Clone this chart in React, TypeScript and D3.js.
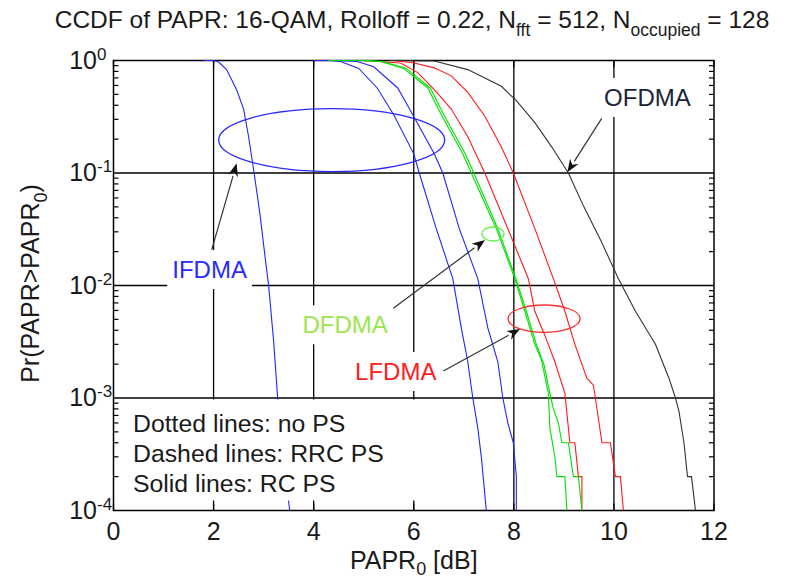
import React, { useEffect, useRef } from 'react';
import * as d3 from 'd3';

// axis ticks
const xTicks = [0, 2, 4, 6, 8, 10, 12];
const yTicks = [1e-4, 1e-3, 1e-2, 1e-1, 1];
const yExp = ['-4', '-3', '-2', '-1', '0'];

// IFDMA (blue)
const ifdmaAX = [1.8, 2.0, 2.1, 2.26, 2.46, 2.6, 2.7, 2.81, 2.93, 3.05, 3.1, 3.2, 3.28, 3.4, 3.52];
const ifdmaAY = [1, 1, 0.97, 0.83, 0.55, 0.37, 0.21, 0.1, 0.042, 0.015, 0.01, 0.0032, 0.001, 0.0003, 0.0001];
const ifdmaBX = [4.0, 4.3, 4.54, 4.9, 5.27, 5.6, 6.0, 6.11, 6.45, 6.78, 6.95, 7.08, 7.18, 7.28, 7.35, 7.45];
const ifdmaBY = [1, 1, 0.98, 0.85, 0.57, 0.33, 0.148, 0.1, 0.032, 0.0115, 0.0042, 0.0021, 0.001, 0.00054, 0.0003, 0.0001];
const ifdmaCX = [4.0, 4.5, 4.87, 5.2, 5.68, 5.98, 6.41, 6.58, 6.91, 7.28, 7.48, 7.68, 7.78, 7.88, 7.99, 8.05, 8.05];
const ifdmaCY = [1, 1, 0.98, 0.88, 0.57, 0.33, 0.148, 0.1, 0.032, 0.0115, 0.0042, 0.0021, 0.001, 0.0006, 0.0004, 0.0002, 0.0001];

// DFDMA (green)
const dfdmaAX = [4.3, 5.0, 5.34, 5.8, 6.28, 6.55, 6.98, 7.15, 7.65, 8.02, 8.22, 8.42, 8.55, 8.69, 8.72, 8.82, 8.86, 9.02, 9.06];
const dfdmaAY = [1, 1, 0.98, 0.85, 0.57, 0.33, 0.148, 0.1, 0.032, 0.0115, 0.0059, 0.003, 0.0022, 0.0011, 0.00054, 0.0003, 0.0002, 0.0002, 0.0001];
const dfdmaBX = [4.4, 5.0, 5.38, 5.85, 6.33, 6.6, 7.03, 7.2, 7.68, 8.04, 8.25, 8.45, 8.6, 8.72, 8.79, 8.89, 8.96, 9.09, 9.19, 9.29, 9.36];
const dfdmaBY = [1, 1, 0.98, 0.85, 0.57, 0.33, 0.148, 0.1, 0.032, 0.0115, 0.0059, 0.003, 0.002, 0.0011, 0.0008, 0.0006, 0.0004, 0.0004, 0.0002, 0.0002, 0.0001];

// LFDMA (red)
const lfdmaAX = [5.0, 5.74, 6.08, 6.41, 6.75, 7.08, 7.42, 7.88, 8.29, 8.42, 8.62, 8.82, 9.02, 9.12, 9.22, 9.29, 9.36, 9.36];
const lfdmaAY = [1, 0.95, 0.78, 0.55, 0.37, 0.21, 0.1, 0.032, 0.0115, 0.0059, 0.0036, 0.0021, 0.0011, 0.0004, 0.0004, 0.0002, 0.0002, 0.0001];
const lfdmaBX = [5.6, 6.01, 6.41, 6.75, 7.08, 7.42, 7.75, 7.99, 8.42, 8.79, 9.02, 9.22, 9.46, 9.59, 9.63, 9.76, 9.93, 10.03, 10.13, 10.19];
const lfdmaBY = [1, 0.95, 0.86, 0.73, 0.52, 0.32, 0.17, 0.1, 0.032, 0.0115, 0.0059, 0.003, 0.0015, 0.0013, 0.001, 0.0004, 0.0004, 0.0002, 0.0002, 0.0001];

// OFDMA (black)
const ofdmaX = [5.5, 6.41, 7.08, 7.75, 8.05, 8.42, 8.76, 9.09, 9.4, 9.75, 10.09, 10.43, 10.83, 11.1, 11.23, 11.3, 11.4, 11.47, 11.55, 11.63];
const ofdmaY = [1, 0.99, 0.83, 0.59, 0.44, 0.28, 0.17, 0.1, 0.05, 0.0245, 0.0115, 0.0059, 0.003, 0.0015, 0.001, 0.00076, 0.0004, 0.0002, 0.0002, 0.0001];

const legendLines = ['Dotted lines: no PS', 'Dashed lines: RRC PS', 'Solid lines: RC PS'];

const App = () => {
  const ref = useRef<SVGSVGElement>(null);

  useEffect(() => {
    const svg = d3.select(ref.current);
    svg.selectAll('*').remove();
    const font = "'Liberation Sans', Arial, sans-serif";

    const x = d3.scaleLinear().domain([0, 12]).range([113.5, 714]);
    const y = d3.scaleLog().domain([1e-4, 1]).range([510.5, 60.5]);
    const [x0, x1] = x.range();
    const [y0, y1] = y.range();

    // grid
    svg.append('g')
      .selectAll('line')
      .data(xTicks.slice(1, -1))
      .enter().append('line')
      .attr('x1', d => x(d)).attr('x2', d => x(d))
      .attr('y1', y1).attr('y2', y0)
      .attr('stroke', '#000').attr('stroke-width', 1.3);
    svg.append('g')
      .selectAll('line')
      .data(yTicks.slice(1, -1))
      .enter().append('line')
      .attr('x1', x0).attr('x2', x1)
      .attr('y1', d => y(d)).attr('y2', d => y(d))
      .attr('stroke', '#000').attr('stroke-width', 1.3);

    // frame + ticks
    const ax = svg.append('g').attr('stroke', '#000');
    ax.append('rect').attr('x', x0).attr('y', y1).attr('width', x1 - x0).attr('height', y0 - y1)
      .attr('fill', 'none').attr('stroke-width', 1.5);
    xTicks.forEach(t => {
      ax.append('line').attr('x1', x(t)).attr('x2', x(t)).attr('y1', y0).attr('y2', y0 - 7).attr('stroke-width', 1.3);
      ax.append('line').attr('x1', x(t)).attr('x2', x(t)).attr('y1', y1).attr('y2', y1 + 7).attr('stroke-width', 1.3);
    });
    const minor: number[] = [];
    for (let d = -4; d < 0; d++) for (let k = 2; k <= 9; k++) minor.push(k * Math.pow(10, d));
    minor.forEach(v => {
      ax.append('line').attr('x1', x0).attr('x2', x0 + 5).attr('y1', y(v)).attr('y2', y(v)).attr('stroke-width', 1.2);
      ax.append('line').attr('x1', x1 - 5).attr('x2', x1).attr('y1', y(v)).attr('y2', y(v)).attr('stroke-width', 1.2);
    });

    // curves
    svg.append('defs').append('clipPath').attr('id', 'plotclip')
      .append('rect').attr('x', x0).attr('y', y1 - 2).attr('width', x1 - x0).attr('height', y0 - y1 + 2);
    const series = [
      { xs: ifdmaAX, ys: ifdmaAY, color: '#2424ff' },
      { xs: ifdmaBX, ys: ifdmaBY, color: '#2424ff' },
      { xs: ifdmaCX, ys: ifdmaCY, color: '#2424ff' },
      { xs: lfdmaAX, ys: lfdmaAY, color: '#ff1a1a' },
      { xs: lfdmaBX, ys: lfdmaBY, color: '#ff1a1a' },
      { xs: dfdmaAX, ys: dfdmaAY, color: '#00e000' },
      { xs: dfdmaBX, ys: dfdmaBY, color: '#00e000' },
      { xs: ofdmaX, ys: ofdmaY, color: '#333333' },
    ];
    const line = d3.line<[number, number]>().x(d => x(d[0])).y(d => y(d[1]));
    const cg = svg.append('g').attr('clip-path', 'url(#plotclip)');
    series.forEach(s => {
      cg.append('path')
        .datum(s.xs.map((v, i) => [v, s.ys[i]] as [number, number]))
        .attr('fill', 'none').attr('stroke', s.color).attr('stroke-width', 1.1)
        .attr('d', line);
    });

    // legend box
    svg.append('rect').attr('x', x0 + 7).attr('y', y(1e-3) + 1.5).attr('width', 320).attr('height', 101)
      .attr('fill', '#fff');
    legendLines.forEach((t, i) => {
      svg.append('text').attr('x', 133).attr('y', 432 + i * 30)
        .attr('font-family', font).attr('font-size', 24.8).attr('fill', '#1a1a1a').text(t);
    });

    // labels with white boxes
    const labels = [
      { text: 'IFDMA', lx: 1.92, ly: Math.pow(10, -1.933), color: '#2a2aff' },
      { text: 'DFDMA', lx: 4.63, ly: Math.pow(10, -2.425), color: '#9be64d' },
      { text: 'LFDMA', lx: 5.64, ly: Math.pow(10, -2.84), color: '#ff2020' },
      { text: 'OFDMA', lx: 10.67, ly: Math.pow(10, -0.404), color: '#1c2536' },
    ];
    labels.forEach(l => {
      const g = svg.append('g');
      const bg = g.append('rect').attr('fill', '#fff');
      const t = g.append('text').attr('x', x(l.lx)).attr('y', y(l.ly)).attr('text-anchor', 'middle')
        .attr('font-family', font).attr('font-size', 24).attr('fill', l.color).text(l.text);
      const bb = (t.node() as SVGTextElement).getBBox();
      bg.attr('x', bb.x - 5).attr('y', bb.y - 6).attr('width', bb.width + 10).attr('height', bb.height + 12);
    });

    // ellipses
    const ellipses = [
      { cx: 4.36, cy: Math.pow(10, -0.707), rx: 113, ry: 31.5, color: '#2a2aff' },
      { cx: 7.584, cy: Math.pow(10, -1.542), rx: 11, ry: 7, color: '#66ee44' },
      { cx: 8.604, cy: Math.pow(10, -2.295), rx: 36, ry: 13.7, color: '#ff3030' },
    ];
    ellipses.forEach(e => {
      svg.append('ellipse').attr('cx', x(e.cx)).attr('cy', y(e.cy)).attr('rx', e.rx).attr('ry', e.ry)
        .attr('fill', 'none').attr('stroke', e.color).attr('stroke-width', 1.3);
    });

    // arrows
    const arrows = [
      { fx: 1.962, fy: Math.pow(10, -1.684), tx: 2.461, ty: Math.pow(10, -0.914) },
      { fx: 5.592, fy: Math.pow(10, -2.203), tx: 7.424, ty: Math.pow(10, -1.596) },
      { fx: 6.591, fy: Math.pow(10, -2.76), tx: 8.124, ty: Math.pow(10, -2.387) },
      { fx: 9.756, fy: Math.pow(10, -0.514), tx: 9.069, ty: Math.pow(10, -0.994) },
    ];
    arrows.forEach(a => {
      const ax1 = x(a.fx), ay1 = y(a.fy), ax2 = x(a.tx), ay2 = y(a.ty);
      const ang = Math.atan2(ay2 - ay1, ax2 - ax1);
      const len = 13, hw = 5;
      const bx = ax2 - len * Math.cos(ang), by = ay2 - len * Math.sin(ang);
      svg.append('line').attr('x1', ax1).attr('y1', ay1).attr('x2', bx).attr('y2', by)
        .attr('stroke', '#333').attr('stroke-width', 1.2);
      const nx = -Math.sin(ang), ny = Math.cos(ang);
      const ix = ax2 - 0.7 * len * Math.cos(ang), iy = ay2 - 0.7 * len * Math.sin(ang);
      svg.append('path')
        .attr('d', `M${ax2},${ay2}L${bx + nx * hw},${by + ny * hw}L${ix},${iy}L${bx - nx * hw},${by - ny * hw}Z`)
        .attr('fill', '#111');
    });

    // tick labels
    xTicks.forEach(t => {
      svg.append('text').attr('x', x(t)).attr('y', 540).attr('text-anchor', 'middle')
        .attr('font-family', font).attr('font-size', 25).attr('fill', '#1a1a1a').text(String(t));
    });
    yTicks.forEach((t, i) => {
      svg.append('text').attr('x', 97).attr('y', y(t) + 8).attr('text-anchor', 'end')
        .attr('font-family', font).attr('font-size', 25).attr('fill', '#1a1a1a').text('10');
      svg.append('text').attr('x', 97).attr('y', y(t) - 1)
        .attr('font-family', font).attr('font-size', 17).attr('fill', '#1a1a1a').text(yExp[i]);
    });

    // axis labels
    const xl = svg.append('text').attr('x', (x0 + x1) / 2).attr('y', 569).attr('text-anchor', 'middle')
      .attr('font-family', font).attr('font-size', 25).attr('fill', '#1a1a1a');
    xl.append('tspan').text('PAPR');
    xl.append('tspan').attr('font-size', 18).attr('dy', 6).text('0');
    xl.append('tspan').attr('dy', -6).text(' [dB]');

    const yl = svg.append('text').attr('transform', `translate(39,${(y0 + y1) / 2 - 2}) rotate(-90)`)
      .attr('text-anchor', 'middle').attr('font-family', font).attr('font-size', 25).attr('fill', '#1a1a1a');
    yl.append('tspan').text('Pr(PAPR>PAPR');
    yl.append('tspan').attr('font-size', 18).attr('dy', 8).text('0');
    yl.append('tspan').attr('dy', -8).text(')');

    // title
    const tt = svg.append('text').attr('x', 412).attr('y', 28).attr('text-anchor', 'middle')
      .attr('font-family', font).attr('font-size', 24.5).attr('fill', '#1a1a1a');
    tt.append('tspan').text('CCDF of PAPR: 16-QAM, Rolloff = 0.22, N');
    tt.append('tspan').attr('font-size', 17.5).attr('dy', 8).text('fft');
    tt.append('tspan').attr('dy', -8).text(' = 512, N');
    tt.append('tspan').attr('font-size', 17.5).attr('dy', 8).text('occupied');
    tt.append('tspan').attr('dy', -8).text(' = 128');
  }, []);

  return (
    <svg ref={ref} width={799} height={582}
      style={{ position: 'absolute', left: 0, top: 0, background: '#fff' }} />
  );
};

export default App;
